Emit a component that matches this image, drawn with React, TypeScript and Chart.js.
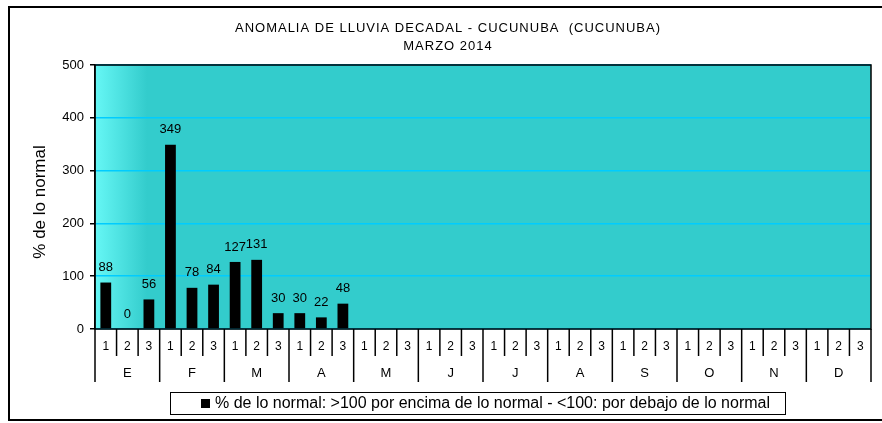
import React, { useEffect, useRef } from "react";
import { Chart, registerables } from "chart.js";

Chart.register(...registerables);

const months = ["E", "F", "M", "A", "M", "J", "J", "A", "S", "O", "N", "D"];
const decades = ["1", "2", "3"];
const values: (number | null)[] = [
  88, 0, 56,
  349, 78, 84,
  127, 131, 30,
  30, 22, 48,
  null, null, null, null, null, null, null, null, null, null, null, null,
  null, null, null, null, null, null, null, null, null, null, null, null,
];
const yTicks = [0, 100, 200, 300, 400, 500];
const titleLines = ["ANOMALIA DE LLUVIA DECADAL - CUCUNUBA  (CUCUNUBA)", "MARZO 2014"];
const yTitle = "% de lo normal";
const legendText = "% de lo normal: >100 por encima de lo normal - <100: por debajo de lo normal";

const categories: string[] = [];
months.forEach((m, mi) => decades.forEach((d) => categories.push(`${m}${mi}-${d}`)));

const FONT = "Arial, 'Liberation Sans', sans-serif";

const decorPlugin = {
  id: "decor",
  beforeDraw(chart: any) {
    const { ctx, chartArea: a, width, height } = chart;
    ctx.save();
    ctx.fillStyle = "#ffffff";
    ctx.fillRect(0, 0, width, height);
    ctx.fillStyle = "#33cccc";
    ctx.fillRect(a.left, a.top, a.right - a.left, a.bottom - a.top);
    const g = ctx.createLinearGradient(a.left, 0, a.left + 52, 0);
    g.addColorStop(0, "#66f7f5");
    g.addColorStop(1, "#33cccc");
    ctx.fillStyle = g;
    ctx.fillRect(a.left, a.top, 52, a.bottom - a.top);
    ctx.restore();
  },
  afterDraw(chart: any) {
    const { ctx, chartArea: a } = chart;
    const x = chart.scales.x;
    const y = chart.scales.y;
    ctx.save();
    ctx.strokeStyle = "#000";
    ctx.lineWidth = 1.5;
    ctx.strokeRect(a.left, a.top, a.right - a.left, a.bottom - a.top);
    // data labels
    ctx.fillStyle = "#000";
    ctx.font = `13px ${FONT}`;
    ctx.textAlign = "center";
    ctx.textBaseline = "middle";
    values.forEach((v, i) => {
      if (v === null) return;
      const px = x.getPixelForValue(i);
      const py = y.getPixelForValue(v);
      ctx.fillText(String(v), px, py - 15);
    });
    // x axis category labels and separators
    const n = categories.length;
    const w = (a.right - a.left) / n;
    ctx.lineWidth = 1.5;
    for (let i = 0; i <= n; i++) {
      const bx = i === n ? x.getPixelForValue(n - 1) + w / 2 : x.getPixelForValue(i) - w / 2;
      const isMonth = i % 3 === 0;
      ctx.beginPath();
      ctx.moveTo(bx, a.bottom);
      ctx.lineTo(bx, isMonth ? a.bottom + 53 : a.bottom + 27);
      ctx.stroke();
    }
    ctx.font = `12px ${FONT}`;
    categories.forEach((c, i) => {
      const px = x.getPixelForValue(i);
      ctx.fillText(decades[i % 3], px, a.bottom + 18);
    });
    ctx.font = `13px ${FONT}`;
    months.forEach((m, mi) => {
      const px = x.getPixelForValue(mi * 3 + 1);
      ctx.fillText(m, px, a.bottom + 44);
    });
    // y title
    ctx.save();
    ctx.translate(40, 202);
    ctx.rotate(-Math.PI / 2);
    ctx.font = `17px ${FONT}`;
    ctx.fillText(yTitle, 0, 0);
    ctx.restore();
    // chart title
    ctx.font = `13px ${FONT}`;
    (ctx as any).letterSpacing = "1px";
    ctx.fillText(titleLines[0], 448, 28);
    ctx.fillText(titleLines[1], 448, 46);
    (ctx as any).letterSpacing = "0px";
    // legend
    ctx.fillStyle = "#fff";
    ctx.fillRect(170.5, 392.5, 615, 22);
    ctx.lineWidth = 1;
    ctx.strokeStyle = "#000";
    ctx.strokeRect(170.5, 392.5, 615, 22);
    ctx.fillStyle = "#000";
    ctx.fillRect(201, 399, 9, 9);
    ctx.textAlign = "left";
    ctx.font = `16px ${FONT}`;
    ctx.fillText(legendText, 215, 404);
    // outer border
    ctx.lineWidth = 2;
    ctx.strokeRect(9, 7, 890, 413);
    ctx.restore();
  },
};

export default function App() {
  const ref = useRef<HTMLCanvasElement | null>(null);
  useEffect(() => {
    document.body.style.margin = "0";
    if (!ref.current) return;
    const chart = new Chart(ref.current, {
      type: "bar",
      data: {
        labels: categories,
        datasets: [
          {
            label: legendText,
            data: values,
            backgroundColor: "#000000",
            barPercentage: 0.5,
            categoryPercentage: 1,
          },
        ],
      },
      options: {
        responsive: false,
        animation: false,
        layout: { padding: { left: 0, top: 65, right: 11, bottom: 94 } },
        plugins: {
          legend: { display: false },
          title: { display: false },
          tooltip: { enabled: false },
        },
        scales: {
          x: { display: false },
          y: {
            min: 0,
            max: 500,
            afterFit: (s: any) => {
              s.width = 95;
            },
            afterBuildTicks: (s: any) => {
              s.ticks = yTicks.map((v) => ({ value: v }));
            },
            ticks: {
              color: "#000",
              font: { size: 13, family: FONT },
              padding: 6,
            },
            grid: {
              color: "#00ccff",
              lineWidth: 1.5,
              tickColor: "#000",
              tickLength: 5,
            },
            border: { color: "#000", width: 1.5 },
          },
        },
      },
      plugins: [decorPlugin],
    });
    return () => chart.destroy();
  }, []);
  return <canvas ref={ref} width={882} height={423} style={{ display: "block" }} />;
}
